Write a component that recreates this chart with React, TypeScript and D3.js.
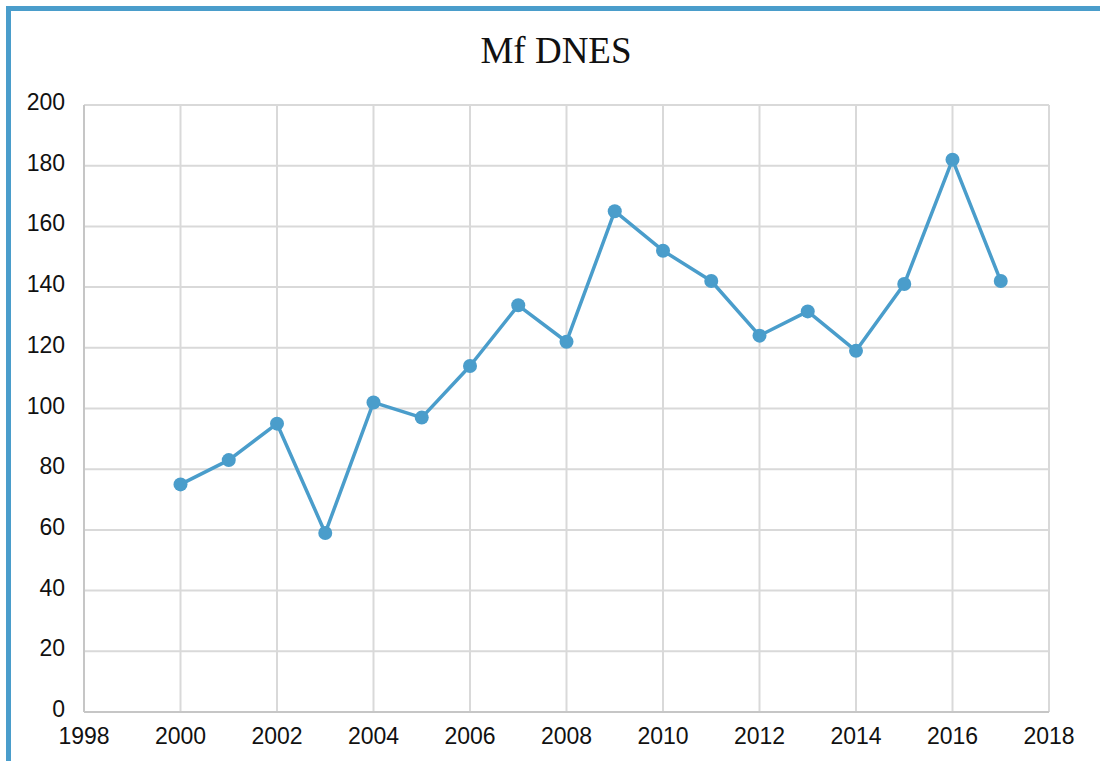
import React from "react";
import * as d3 from "d3";

const years = [2000, 2001, 2002, 2003, 2004, 2005, 2006, 2007, 2008, 2009, 2010, 2011, 2012, 2013, 2014, 2015, 2016, 2017];
const values = [75, 83, 95, 59, 102, 97, 114, 134, 122, 165, 152, 142, 124, 132, 119, 141, 182, 142];
const xTicks = [1998, 2000, 2002, 2004, 2006, 2008, 2010, 2012, 2014, 2016, 2018];
const yTicks = [0, 20, 40, 60, 80, 100, 120, 140, 160, 180, 200];
const title = "Mf DNES";

export default function App() {
  const W = 1100, H = 761;
  const left = 84, right = 1049, top = 105, bottom = 712;
  const x = d3.scaleLinear().domain([1998, 2018]).range([left, right]);
  const y = d3.scaleLinear().domain([0, 200]).range([bottom, top]);
  const color = "#4a9dcb";
  const line = d3.line<number>().x((_, i) => x(years[i])).y((d) => y(d));
  const sans = "'Liberation Sans', Arial, Helvetica, sans-serif";
  return (
    <svg width={W} height={H} style={{ position: "absolute", left: 0, top: 0 }}>
      <rect x={0} y={0} width={W} height={H} fill="#fff" />
      <rect x={6} y={6} width={W - 6} height={5} fill={color} />
      <rect x={6} y={6} width={5} height={H - 6} fill={color} />
      <text x={556} y={63} textAnchor="middle" fontFamily="'Liberation Serif', 'Times New Roman', serif" fontSize={37} fill="#111">
        {title}
      </text>
      {yTicks.map((t) => (
        <line key={"gy" + t} x1={left} x2={right} y1={y(t)} y2={y(t)} stroke="#d9d9d9" strokeWidth={2} />
      ))}
      {xTicks.map((t) => (
        <line key={"gx" + t} x1={x(t)} x2={x(t)} y1={top} y2={bottom} stroke="#d9d9d9" strokeWidth={2} />
      ))}
      <line x1={left} x2={left} y1={top} y2={bottom} stroke="#c6c6c6" strokeWidth={2} />
      <line x1={left} x2={right} y1={bottom} y2={bottom} stroke="#c6c6c6" strokeWidth={2} />
      {yTicks.map((t) => (
        <text key={"ly" + t} x={65} y={y(t) + 5} textAnchor="end" fontFamily={sans} fontSize={23} fill="#111">
          {t}
        </text>
      ))}
      {xTicks.map((t) => (
        <text key={"lx" + t} x={x(t)} y={744} textAnchor="middle" fontFamily={sans} fontSize={23} fill="#111">
          {t}
        </text>
      ))}
      <path d={line(values) || ""} fill="none" stroke={color} strokeWidth={3.5} strokeLinejoin="round" />
      {values.map((v, i) => (
        <circle key={"p" + i} cx={x(years[i])} cy={y(v)} r={7} fill={color} />
      ))}
    </svg>
  );
}
